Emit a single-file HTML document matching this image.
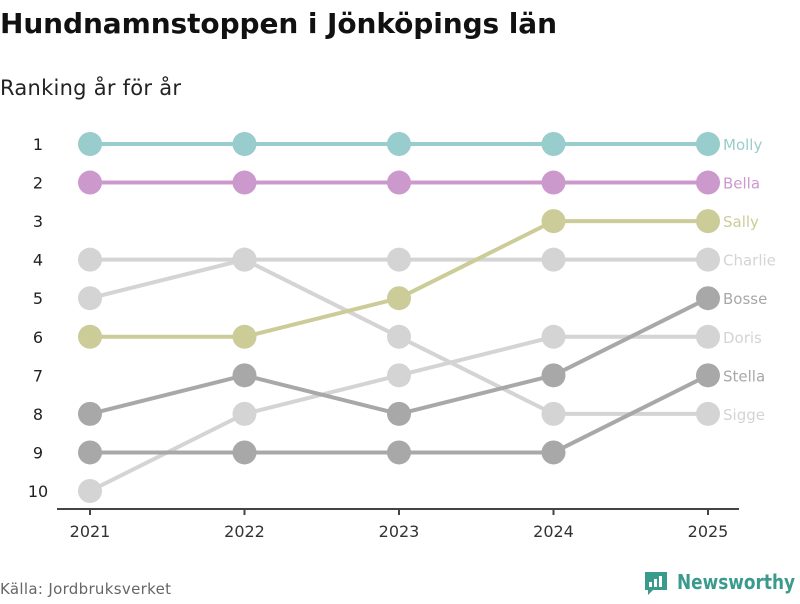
<!DOCTYPE html>
<html><head><meta charset="utf-8"><style>
body{margin:0;width:800px;height:600px;background:#fff;overflow:hidden;font-family:"DejaVu Sans","Liberation Sans",sans-serif}
</style></head><body>
<svg width="800" height="600" xmlns="http://www.w3.org/2000/svg">
<text x="0" y="33" font-size="28" font-weight="bold" fill="#111" textLength="557">Hundnamnstoppen i Jönköpings län</text>
<text x="0" y="95" font-size="21" fill="#222" textLength="181">Ranking år för år</text>
<g id="axes"></g>
<g id="series"></g>
<text x="0" y="594" font-size="15" fill="#666" textLength="171">Källa: Jordbruksverket</text>
<g>
<path d="M645 572 h22 v18 h-14 l-5 5 v-5 h-3 z" fill="#3a9a8c"/>
<rect x="649" y="582" width="3" height="5" fill="#fff"/><rect x="654" y="579" width="3" height="8" fill="#fff"/><rect x="659" y="576" width="3" height="11" fill="#fff"/>
<text x="677" y="589" font-size="20" font-weight="bold" fill="#3a9a8c" textLength="118" lengthAdjust="spacingAndGlyphs">Newsworthy</text>
</g>
</svg>
<script>
const years=["2021","2022","2023","2024","2025"];
const names=["Molly","Bella","Sally","Charlie","Bosse","Doris","Stella","Sigge"];
const molly=[1,1,1,1,1];
const bella=[2,2,2,2,2];
const sally=[6,6,5,3,3];
const charlie=[4,4,4,4,4];
const bosse=[8,7,8,7,5];
const doris=[10,8,7,6,6];
const stella=[9,9,9,9,7];
const sigge=[5,4,6,8,8];
const rankTicks=[1,2,3,4,5,6,7,8,9,10];
const seriesData=[molly,bella,sally,charlie,bosse,doris,stella,sigge];
const colors=["#99cccc","#cc99cc","#cccc99","#d4d4d4","#a8a8a8","#d4d4d4","#a8a8a8","#d4d4d4"];
const NS="http://www.w3.org/2000/svg";
const x=i=>90+i*(708-90)/(years.length-1);
const y=r=>144+(r-1)*(491-144)/9;
function mk(tag,attrs,parent){const e=document.createElementNS(NS,tag);for(const k in attrs)e.setAttribute(k,attrs[k]);parent.appendChild(e);return e;}
const ax=document.getElementById('axes');
let l=mk('line',{x1:57,x2:739,y1:509,y2:509,stroke:'#444','stroke-width':2},ax);


years.forEach((yr,i)=>{
 const t=mk('line',{x1:x(i),x2:x(i),y1:509,y2:515,stroke:'#444','stroke-width':2},ax);
 
 
 const tx=mk('text',{x:x(i),y:537,'text-anchor':'middle','font-size':16,fill:'#333'},ax);
 tx.textContent=yr;
 
 
});
rankTicks.forEach(r=>{
 const tx=mk('text',{x:38,y:y(r)+6,'text-anchor':'middle','font-size':16,fill:'#222'},ax);
 tx.textContent=r;
 
 
});
const sg=document.getElementById('series');
const order=[3,5,7,4,6,2,1,0];
order.forEach(s=>{
 const d=seriesData[s];
 const g=mk('g',{},sg);
 
 
 const p=mk('polyline',{points:d.map((r,i)=>x(i)+','+y(r)).join(' '),fill:'none',stroke:colors[s],'stroke-width':4},g);
 
 
 d.forEach((r,i)=>{
  const c=mk('circle',{cx:x(i),cy:y(r),r:12,fill:colors[s]},g);
  
  
 });
 const lb=mk('text',{x:723,y:y(d[d.length-1])+6,'font-size':15,fill:colors[s]},g);
 lb.textContent=names[s];
 
 
});
</script>
</body></html>
